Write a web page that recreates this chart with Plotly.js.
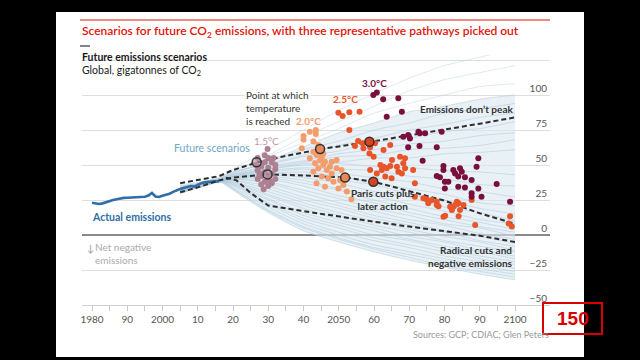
<!DOCTYPE html>
<html><head><meta charset="utf-8">
<script src="https://cdn.plot.ly/plotly-3.0.1.min.js"></script>
<style>
html,body{margin:0;padding:0;background:#000;width:640px;height:360px;overflow:hidden;}
#panel{position:absolute;left:56px;top:12px;width:528px;height:345px;background:#fff;}
#chart{position:absolute;left:0;top:0;width:640px;height:360px;}
</style></head><body>
<div id="panel"></div><div id="chart"></div>
<script>
// ---------- data ----------
const actualYears = [1980,1981,1982,1983,1984,1985,1986,1987,1988,1989,1990,1991,1992,1993,1994,1995,1996,1997,1998,1999,2000,2001,2002,2003,2004,2005,2006,2007,2008,2009,2010,2011,2012,2013,2014,2015,2016];
const actualEmissions = [23.0,22.4,22.2,22.6,23.5,24.3,25.0,25.6,26.2,26.5,26.6,26.7,26.6,26.7,27.0,27.3,28.2,30.0,27.5,27.2,28.0,28.6,29.5,30.8,32.0,32.8,33.6,34.4,35.0,34.6,36.0,37.0,37.6,38.0,38.3,38.3,38.2];

const scenarioYears = [2005,2016,2020,2030,2040,2050,2060,2070,2080,2090,2100];
const scenarios = [
  [36,40,47,61,75,89,101,112,121,127,133],
  [35,41,46,57,70,81,92,103,111,116,121],
  [34,40,45,56,66,76,87,94,100,106,108],
  [35,39,44,53,63,73,80,88,92,97,100],
  [33,40,44,52,61,67,75,80,87,90,94],
  [34,40,45,51,57,64,69,75,79,84,87],
  [32,39,43,50,56,60,66,69,74,76,81],
  [33,40,43,49,53,58,61,65,67,71,73],
  [31,39,42,48,52,56,57,61,62,64,68],
  [32,39,43,47,51,52,55,55,58,59,61],
  [33,40,42,47,50,51,49,48,46,45,43],
  [31,39,42,46,48,47,46,42,40,36,35],
  [32,39,42,45,47,44,41,38,33,31,27],
  [30,38,41,44,45,42,37,33,29,23,21],
  [33,40,42,44,43,39,36,29,25,19,15],
  [31,39,41,43,41,37,31,27,20,16,10],
  [32,39,41,42,39,33,28,22,17,11,8],
  [30,38,40,41,37,32,25,19,13,9,4],
  [33,40,41,40,35,28,23,16,11,6,2],
  [31,39,40,38,32,26,19,14,8,5,-1],
  [32,39,40,37,30,23,17,11,7,1,-3],
  [30,38,39,35,27,21,14,9,3,-1,-6],
  [33,40,39,33,25,19,12,7,2,-4,-8],
  [31,39,38,31,23,16,10,4,-1,-5,-11],
  [32,39,38,29,21,14,7,2,-4,-8,-12],
  [30,38,37,28,19,11,5,-1,-5,-11,-15],
  [33,40,37,26,16,9,3,-3,-8,-12,-17],
  [31,39,36,25,14,7,0,-4,-10,-15,-19],
  [32,39,36,23,12,5,-2,-7,-12,-17,-21],
  [30,38,35,22,10,2,-4,-9,-15,-19,-24],
  [33,40,34,20,8,0,-7,-12,-17,-22,-26],
  [31,39,33,18,6,-2,-9,-14,-19,-24,-28],
  [32,39,33,17,5,-3,-10,-16,-22,-26,-30],
  [30,38,32,16,3,-5,-12,-18,-23,-28,-32]
];

const noPeakYears = [2005,2010,2016,2020,2027,2035,2045,2059,2070,2080,2090,2100];
const noPeakVals  = [37,39.5,42,46.4,52,56.5,61.4,66.6,71,75,79.5,84];
const parisYears = [2005,2010,2016,2020,2030,2040,2052,2060,2072,2080,2085,2090,2100];
const parisVals  = [30.5,34,39,41,43.3,42.5,41,38,30,24.5,20,15.5,8];
const radicalYears = [2018,2021,2025,2030,2040,2050,2060,2070,2080,2090,2100];
const radicalVals  = [41,39,30,21,17,13,9.5,6,3,-0.5,-5];

const t15Years = [2029.8,2030,2027,2029,2031,2028,2030,2032,2027,2029,2031,2028,2030,2032,2027,2029,2031,2028,2030,2028.7,2026.5,2032,2029,2030.5,2028.5,2031.5,2027.5];
const t15Vals  = [61.4,55,55,52,52,49,48,47,46,45,44,42,41,40,40,38,37,36,35,32.6,50,50,57,38.5,44,55,43];

const t20Years = [2040.0,2041.8,2043.5,2043.5,2040.0,2042.8,2044.2,2042.8,2043.7,2045.2,2044.7,2046.1,2043.3,2045.6,2047.5,2044.2,2046.6,2049.4,2050.8,2042.8,2048,2045.2,2047,2050.4,2048.5,2043.7,2051.3,2046.1,2049.9,2052.3,2041.8,2048,2045.6,2049.4,2039.5,2053.6];
const t20Vals  = [70.7,73.8,75,72.1,68.3,66.7,64.3,59.5,57.1,55.9,53.6,52.4,51.2,50,48.8,47.6,46.4,47.6,46.4,45.2,44,41.7,40.5,39.3,38.1,36.9,35.7,34.5,33.3,31,54.8,52.4,58.3,53.6,62,25.5];

const t25Years = [2049.9,2051.1,2053,2055.9,2053,2055.5,2056.8,2054.6,2057,2058.9,2060.3,2058.7,2059.9,2062.7,2064.6,2061.8,2062.7,2063.6,2062.2,2064.6,2066.5,2068.8,2067.4,2058.9,2060.8,2063.2,2065.1,2068.3,2071.1,2071.6,2068.8,2065,2066.9,2067.9,2071.6,2074,2074.9,2075.4,2076.4,2077.8,2077.8,2078.3,2079.7,2080.2,2081.6,2082.1,2082.5,2083,2083.5,2084,2084,2084.4,2085.4,2087.7,2088.7,2098.6,2098.2,2099.1];
const t25Vals  = [87.4,85,87.6,88.1,75,67.1,65.5,63.6,61.9,62.6,65.5,58.3,55.9,60.7,64.3,50,48.8,47.6,46.4,49.3,48.8,47.6,55.9,46.4,44,41.7,53.6,51.2,46.4,36.9,54.8,40.5,45.2,44,27.4,26.2,25.5,22.6,25,23.8,21.4,20.5,13.1,13.8,20.2,17.9,20.2,21.4,23.8,22.6,13.4,17.9,21.4,25,7.1,13.4,8.3,6];

const t30Years = [2059.8,2060.8,2062.6,2066.9,2067.9,2063.6,2068.3,2069.7,2070.2,2072.6,2073,2074.5,2079.2,2069.7,2072.9,2077.8,2073.8,2079.7,2079.7,2082.5,2083,2084.4,2084.9,2083.9,2077.8,2078.7,2080.1,2081.1,2085.8,2087.7,2089.1,2089.6,2094.8,2080.1,2083.9,2085.8,2089.6,2087.7,2087.7,2090.5,2098.6];
const t30Vals  = [100,101.7,96.9,97.6,88.1,84.5,70.2,71.4,69,73.8,72.6,72.6,73.8,62.6,63.6,62.6,53.1,49.3,46.4,46.4,44,47.6,45.2,41.7,42.1,41.2,38.1,38.1,41.2,39.3,48.8,54.8,36.4,33.3,34.5,34,33.3,29.8,27.4,27.4,23.8];

const markYears15 = [2026.7,2029.8], markVals15 = [52,43.3];
const markYears20 = [2044.7,2051.8], markVals20 = [61.4,41];
const markYears25 = [2058.7,2059.8], markVals25 = [66.6,38];

const xTickVals = [1980,1990,2000,2010,2020,2030,2040,2050,2060,2070,2080,2090,2100];
const xTickText = ['1980','90','2000','10','20','30','40','2050','60','70','80','90','2100'];
const yTickVals = [-50,-25,0,25,50,75,100,125];

// ---------- styles ----------
const FONT = 'Lato, "Open Sans", sans-serif';
const C15='#ad7f90', C20='#f59c6c', C25='#e9552b', C30='#7a0f3e';
const L=82, T=55, W=468, H=250;
const px = x => (x-L)/W, py = y => (T+H-y)/H;

const traces = [];
// fan envelope fill (dense part: all but the three highest outliers)
const dense = scenarios.slice(3);
const upper = scenarioYears.map((_,i)=>Math.max(...dense.map(s=>s[i])));
const lower = scenarioYears.map((_,i)=>Math.min(...dense.map(s=>s[i])));
traces.push({x:scenarioYears,y:lower,mode:'lines',line:{width:0,shape:'spline',smoothing:0.6},hoverinfo:'skip'});
traces.push({x:scenarioYears,y:upper,mode:'lines',line:{width:0,shape:'spline',smoothing:0.6},fill:'tonexty',fillcolor:'rgba(218,232,240,0.6)',hoverinfo:'skip'});
scenarios.forEach((s,i)=>traces.push({x:scenarioYears,y:s,mode:'lines',line:{color:i<3?'rgba(185,208,222,0.45)':'rgba(170,200,218,0.5)',width:1,shape:'spline',smoothing:0.6},hoverinfo:'skip'}));
// actual
traces.push({x:actualYears,y:actualEmissions,mode:'lines',line:{color:'#2f6ea6',width:2.6}});
// pathways
const dash={color:'#2e2e2e',width:2,dash:'5px,3px'};
traces.push({x:noPeakYears,y:noPeakVals,mode:'lines',line:dash});
traces.push({x:parisYears,y:parisVals,mode:'lines',line:dash});
traces.push({x:radicalYears,y:radicalVals,mode:'lines',line:dash});
// dots
const dot=(x,y,c)=>({x,y,mode:'markers',marker:{color:c,size:6,line:{width:0}},cliponaxis:true});
traces.push(dot(t15Years,t15Vals,C15));
traces.push(dot(t20Years,t20Vals,C20));
traces.push(dot(t25Years,t25Vals,C25));
traces.push(dot(t30Years,t30Vals,C30));
// circles on pathways
const ring=(x,y,c)=>({x,y,mode:'markers',marker:{color:c,size:9,line:{color:'#333',width:1.5}}});
traces.push(ring(markYears15,markVals15,'rgba(190,150,165,0.6)'));
traces.push(ring(markYears20,markVals20,'#e7875a'));
traces.push(ring(markYears25,markVals25,'#d8431f'));

const ann = [];
const A=(o)=>ann.push(Object.assign({showarrow:false,xanchor:'center',yanchor:'middle',font:{family:FONT,size:10,color:'#333'}},o));
// header
A({xref:'paper',yref:'paper',x:px(80),y:py(32),xanchor:'left',text:'Scenarios for future CO<sub>2</sub> emissions, with three representative pathways picked out',font:{family:FONT,size:12,color:'#e3120b',weight:600}});
A({xref:'paper',yref:'paper',x:px(80),y:py(57),xanchor:'left',text:'<b>Future emissions scenarios</b>',font:{family:FONT,size:10.5,color:'#1a1a1a'}});
A({xref:'paper',yref:'paper',x:px(80),y:py(71.5),xanchor:'left',text:'Global, gigatonnes of CO<sub>2</sub>',font:{family:FONT,size:10.5,color:'#1a1a1a'}});
A({xref:'paper',yref:'paper',x:px(551),y:py(334),xanchor:'right',text:'Sources: GCP; CDIAC; Glen Peters',font:{family:FONT,size:9,color:'#999'}});
// chart labels
A({x:2023.1,y:90.5,xanchor:'left',align:'left',text:'Point at which<br>temperature<br>is reached',bgcolor:'#fff',borderpad:1,font:{family:FONT,size:10,color:'#333'}});
A({x:2029.5,y:67.4,text:'1.5°C',font:{family:FONT,size:10,color:'#bf97a6'}});
A({x:2041.3,y:81.6,text:'<b>2.0°C</b>',font:{family:FONT,size:10,color:C20}});
A({x:2052,y:96.9,text:'<b>2.5°C</b>',font:{family:FONT,size:10,color:C25}});
A({x:2060,y:108.8,text:'<b>3.0°C</b>',font:{family:FONT,size:10,color:C30}});
A({x:2100,y:89.8,xanchor:'right',text:'<b>Emissions don’t peak</b>',font:{family:FONT,size:10,color:'#333'}});
A({x:2062.6,y:25.6,align:'center',text:'<b>Paris cuts plus<br>later action</b>',font:{family:FONT,size:10,color:'#333'}});
A({x:2100,y:-15,xanchor:'right',align:'right',text:'<b>Radical cuts and<br>negative emissions</b>',font:{family:FONT,size:10,color:'#333'}});
A({x:2002.7,y:62.4,xanchor:'left',text:'Future scenarios',font:{family:FONT,size:10.5,color:'#6fa6c6'}});
A({x:1979.4,y:13.1,xanchor:'left',text:'<b>Actual emissions</b>',font:{family:FONT,size:10.5,color:'#2f6ea6'}});
A({x:1977.9,y:-9.5,xanchor:'left',text:'↓',font:{family:FONT,size:10,color:'#999'}});
A({x:1980.4,y:-13.4,xanchor:'left',align:'left',text:'Net negative<br>emissions',font:{family:FONT,size:10,color:'#aaa'}});
// red box label
A({xref:'paper',yref:'paper',x:px(572.5),y:py(318.5),text:'<b>150</b>',font:{family:'Liberation Sans, Arial, sans-serif',size:19,color:'#d80000'}});

const shapes = [
  {type:'line',xref:'paper',yref:'paper',x0:px(80),x1:px(550),y0:py(20),y1:py(20),line:{color:'#e3120b',width:1}},
  {type:'line',xref:'paper',yref:'paper',x0:px(80),x1:px(90),y0:py(46),y1:py(46),line:{color:'#333',width:1.2}},
  {type:'rect',xref:'paper',yref:'paper',x0:px(543),x1:px(602),y0:py(303),y1:py(334),line:{color:'#d80000',width:2},fillcolor:'rgba(0,0,0,0)'}
];

const layout = {
  width:640,height:360,
  margin:{l:L,r:640-L-W,t:T,b:360-T-H,pad:0},
  paper_bgcolor:'rgba(0,0,0,0)',plot_bgcolor:'rgba(0,0,0,0)',
  showlegend:false,
  xaxis:{range:[1977.16,2109.93],tickmode:'array',tickvals:xTickVals,ticktext:xTickText,showgrid:false,zeroline:false,
    showline:true,linecolor:'#d0d0d0',linewidth:1,ticks:'outside',ticklen:5,tickcolor:'#c8c8c8',
    minor:{tick0:1980,dtick:5,ticks:'outside',ticklen:5,tickcolor:'#c8c8c8',showgrid:false},
    tickfont:{family:FONT,size:10,color:'#555'},fixedrange:true},
  yaxis:{range:[-50,128.57],side:'right',tickmode:'array',tickvals:yTickVals,ticklabelposition:'inside top',
    showgrid:true,gridcolor:'#dedede',gridwidth:1,zeroline:true,zerolinecolor:'#8a8a8a',zerolinewidth:1.5,
    showline:false,ticks:'',tickfont:{family:FONT,size:10,color:'#555'},fixedrange:true},
  annotations:ann,shapes:shapes,
  font:{family:FONT}
};
Plotly.newPlot('chart',traces,layout,{displayModeBar:false,staticPlot:true});
</script></body></html>
